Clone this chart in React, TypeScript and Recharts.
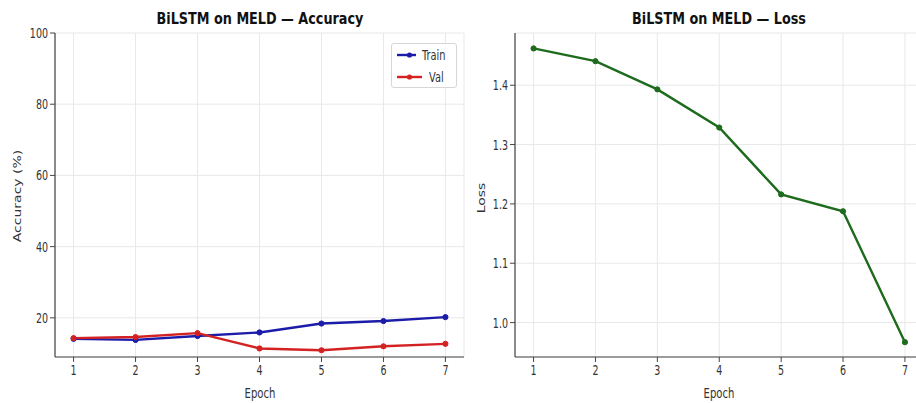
import React from 'react';
import { LineChart, Line, XAxis, YAxis, CartesianGrid } from 'recharts';

const epochs = [1, 2, 3, 4, 5, 6, 7];
const trainAcc = [14.1, 13.8, 14.9, 15.9, 18.4, 19.1, 20.2];
const valAcc = [14.3, 14.6, 15.7, 11.4, 10.9, 12.0, 12.7];
const lossVals = [1.462, 1.4405, 1.393, 1.3287, 1.216, 1.1876, 0.967];
const accTicks = [20, 40, 60, 80, 100];
const lossTicks = [1.0, 1.1, 1.2, 1.3, 1.4];

const accData = epochs.map((e, i) => ({ epoch: e, train: trainAcc[i], val: valAcc[i] }));
const lossData = epochs.map((e, i) => ({ epoch: e, loss: lossVals[i] }));

const FONT = '"DejaVu Sans", sans-serif';
const TXT = '#333';
const SPINE = '#444';
const BLUE = '#1c1caa';
const RED = '#d42222';
const GREEN = '#1e6b1e';
const SX = 0.68;
const LW = 2.4;

const XTick = (props: any) => {
  const { x, y, payload } = props;
  return (
    <g transform={`translate(${x},${y})`}>
      <text transform={`scale(${SX},1)`} textAnchor="middle" dy="0.75em" fontSize={14} fontFamily={FONT} fill={TXT}>
        {payload.value}
      </text>
    </g>
  );
};

const makeYTick = (fmt: (v: number) => string) => (props: any) => {
  const { x, y, payload } = props;
  return (
    <g transform={`translate(${x},${y})`}>
      <text transform={`scale(${SX},1)`} textAnchor="end" dy="0.36em" fontSize={14} fontFamily={FONT} fill={TXT}>
        {fmt(payload.value)}
      </text>
    </g>
  );
};

const AccYTick = makeYTick((v) => String(v));
const LossYTick = makeYTick((v) => v.toFixed(1));

const abs = (extra: React.CSSProperties): React.CSSProperties => ({
  position: 'absolute',
  fontFamily: FONT,
  color: TXT,
  whiteSpace: 'nowrap',
  lineHeight: 1,
  ...extra,
});

const Title = ({ text, cx, cy }: { text: string; cx: number; cy: number }) => (
  <div
    style={abs({
      left: cx,
      top: cy,
      transform: 'translate(-50%,-50%) scaleX(0.8)',
      fontSize: 16,
      fontWeight: 'bold',
      color: '#111',
    })}
  >
    {text}
  </div>
);

const XLabel = ({ cx, cy }: { cx: number; cy: number }) => (
  <div style={abs({ left: cx, top: cy, transform: 'translate(-50%,-50%) scaleX(0.72)', fontSize: 14 })}>Epoch</div>
);

const YLabel = ({ text, cx, cy }: { text: string; cx: number; cy: number }) => (
  <div style={abs({ left: cx, top: cy, transform: 'translate(-50%,-50%) rotate(-90deg) scaleY(0.72)', fontSize: 14, transformOrigin: 'center' })}>
    {text}
  </div>
);

const LegendItem = ({ color, label }: { color: string; label: string }) => (
  <div style={{ display: 'flex', alignItems: 'center', height: 22 }}>
    <svg width={27} height={10} style={{ marginLeft: 4 }}>
      <line x1={1} y1={5} x2={26} y2={5} stroke={color} strokeWidth={LW} />
      <circle cx={13.5} cy={5} r={2.6} fill={color} />
    </svg>
    <span style={{ display: 'inline-block', marginLeft: 6, fontSize: 14, transform: 'scaleX(0.7)', transformOrigin: 'left center', color: TXT }}>
      {label}
    </span>
  </div>
);

export default function App() {
  return (
    <div style={{ position: 'absolute', left: 0, top: 0, width: 916, height: 403, overflow: 'hidden', background: '#fff' }}>
      {/* Accuracy chart */}
      <div style={{ position: 'absolute', left: 0, top: 0 }}>
        <LineChart width={470} height={403} data={accData} margin={{ top: 33, right: 6, bottom: 16, left: 0 }}>
          <CartesianGrid xAxisId="b" yAxisId="l" stroke="#e8e8e8" strokeWidth={1} />
          <XAxis
            xAxisId="b"
            type="number"
            dataKey="epoch"
            domain={[0.7, 7.3]}
            ticks={epochs}
            allowDataOverflow
            height={30}
            tickSize={5}
            tickMargin={2}
            tick={<XTick />}
            tickLine={{ stroke: SPINE }}
            axisLine={{ stroke: SPINE, strokeWidth: 1.2 }}
          />
          <XAxis xAxisId="t" orientation="top" type="number" dataKey="epoch" domain={[0.7, 7.3]} height={0} tick={false} tickLine={false} axisLine={{ stroke: SPINE, strokeWidth: 1.2 }} />
          <YAxis
            yAxisId="l"
            type="number"
            domain={[9, 100]}
            ticks={accTicks}
            allowDataOverflow
            width={55}
            tickSize={5}
            tickMargin={2}
            tick={<AccYTick />}
            tickLine={{ stroke: SPINE }}
            axisLine={{ stroke: SPINE, strokeWidth: 1.2 }}
          />
          <YAxis yAxisId="r" orientation="right" type="number" domain={[9, 100]} width={0} tick={false} tickLine={false} axisLine={{ stroke: SPINE, strokeWidth: 1.2 }} />
          <Line xAxisId="b" yAxisId="l" type="linear" dataKey="train" stroke={BLUE} strokeWidth={LW} dot={{ r: 2.6, fill: BLUE, stroke: BLUE, strokeWidth: 1 }} isAnimationActive={false} />
          <Line xAxisId="b" yAxisId="l" type="linear" dataKey="val" stroke={RED} strokeWidth={LW} dot={{ r: 2.6, fill: RED, stroke: RED, strokeWidth: 1 }} isAnimationActive={false} />
        </LineChart>
      </div>

      {/* Loss chart */}
      <div style={{ position: 'absolute', left: 460, top: 0 }}>
        <LineChart width={470} height={403} data={lossData} margin={{ top: 33, right: 6.5, bottom: 16, left: 0 }}>
          <CartesianGrid xAxisId="b" yAxisId="l" stroke="#e8e8e8" strokeWidth={1} />
          <XAxis
            xAxisId="b"
            type="number"
            dataKey="epoch"
            domain={[0.7, 7.3]}
            ticks={epochs}
            allowDataOverflow
            height={30}
            tickSize={5}
            tickMargin={2}
            tick={<XTick />}
            tickLine={{ stroke: SPINE }}
            axisLine={{ stroke: SPINE, strokeWidth: 1.2 }}
          />
          <XAxis xAxisId="t" orientation="top" type="number" dataKey="epoch" domain={[0.7, 7.3]} height={0} tick={false} tickLine={false} axisLine={{ stroke: SPINE, strokeWidth: 1.2 }} />
          <YAxis
            yAxisId="l"
            type="number"
            domain={[0.942, 1.488]}
            ticks={lossTicks}
            allowDataOverflow
            width={55}
            tickSize={5}
            tickMargin={2}
            tick={<LossYTick />}
            tickLine={{ stroke: SPINE }}
            axisLine={{ stroke: SPINE, strokeWidth: 1.2 }}
          />
          <YAxis yAxisId="r" orientation="right" type="number" domain={[0.942, 1.488]} width={0} tick={false} tickLine={false} axisLine={{ stroke: SPINE, strokeWidth: 1.2 }} />
          <Line xAxisId="b" yAxisId="l" type="linear" dataKey="loss" stroke={GREEN} strokeWidth={LW} dot={{ r: 2.6, fill: GREEN, stroke: GREEN, strokeWidth: 1 }} isAnimationActive={false} />
        </LineChart>
      </div>

      <Title text="BiLSTM on MELD — Accuracy" cx={259.5} cy={19} />
      <Title text="BiLSTM on MELD — Loss" cx={719} cy={19} />
      <XLabel cx={259.5} cy={393} />
      <XLabel cx={719} cy={393} />
      <YLabel text="Accuracy (%)" cx={17} cy={196} />
      <YLabel text="Loss" cx={481} cy={198} />

      {/* Legend */}
      <div
        style={{
          position: 'absolute',
          left: 391,
          top: 43,
          width: 66,
          height: 45,
          background: 'rgba(255,255,255,0.85)',
          border: '1px solid #d6d6d6',
          borderRadius: 3,
          fontFamily: FONT,
          paddingTop: 0,
          boxSizing: 'border-box',
        }}
      >
        <LegendItem color={BLUE} label="Train" />
        <LegendItem color={RED} label="Val" />
      </div>
    </div>
  );
}
